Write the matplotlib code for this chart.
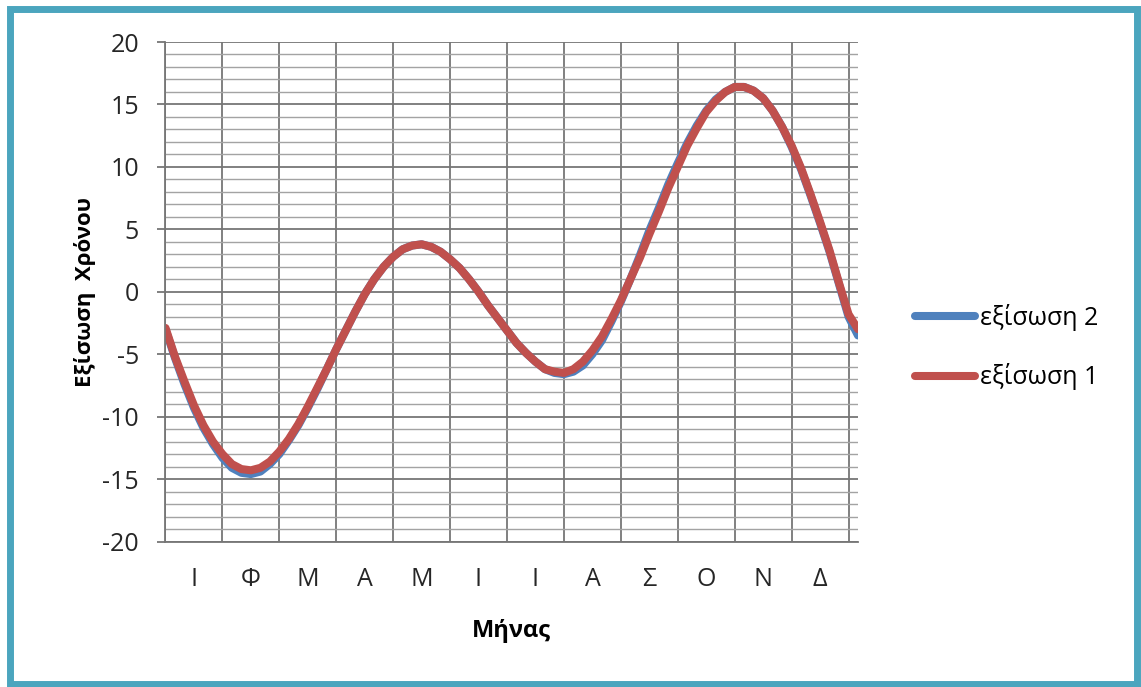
import matplotlib
matplotlib.use('Agg')
import matplotlib.pyplot as plt
from matplotlib.patches import Rectangle
from matplotlib.ticker import MultipleLocator

plt.rcParams['font.family'] = ['Open Sans', 'DejaVu Sans']
plt.rcParams['axes.unicode_minus'] = False

# day of year, sampled every 5 days
days = list(range(0, 366, 5))

# equation of time in minutes, two approximations
eq1 = [-2.9, -5.2, -7.2, -9.1, -10.7, -12.0, -13.0, -13.8, -14.2, -14.3,
       -14.1, -13.6, -12.8, -11.8, -10.6, -9.2, -7.7, -6.2, -4.6, -3.1,
       -1.6, -0.2, 1.0, 2.0, 2.8, 3.4, 3.7, 3.8, 3.6, 3.2,
       2.6, 1.9, 1.0, 0.0, -1.1, -2.1, -3.1, -4.1, -4.9, -5.6,
       -6.2, -6.4, -6.5, -6.2, -5.6, -4.7, -3.6, -2.2, -0.7, 1.0,
       2.7, 4.6, 6.4, 8.3, 10.0, 11.7, 13.1, 14.4, 15.3, 16.0,
       16.4, 16.4, 16.1, 15.5, 14.5, 13.2, 11.7, 9.9, 7.8, 5.6,
       3.3, 0.7, -1.8, -3.0]
eq2 = [-3.0, -5.3, -7.4, -9.3, -10.9, -12.2, -13.3, -14.1, -14.5, -14.6,
       -14.4, -13.8, -13.0, -11.9, -10.7, -9.3, -7.8, -6.2, -4.6, -3.1,
       -1.6, -0.2, 1.0, 2.0, 2.8, 3.4, 3.7, 3.8, 3.6, 3.2,
       2.6, 1.9, 1.0, 0.0, -1.1, -2.1, -3.1, -4.1, -4.9, -5.6,
       -6.2, -6.5, -6.6, -6.4, -5.9, -5.0, -3.9, -2.4, -0.8, 1.0,
       2.9, 4.9, 6.7, 8.6, 10.3, 11.9, 13.3, 14.5, 15.4, 16.0,
       16.4, 16.4, 16.1, 15.5, 14.5, 13.2, 11.6, 9.8, 7.7, 5.5,
       3.2, 0.6, -2.0, -3.5]

month_ticks = list(range(0, 361, 30))
month_centers = list(range(15, 360, 30))
month_labels = ['Ι', 'Φ', 'Μ', 'Α', 'Μ', 'Ι', 'Ι', 'Α', 'Σ', 'Ο', 'Ν', 'Δ']

W, H = 1141, 687
fig = plt.figure(figsize=(W / 100, H / 100), dpi=100)
fig.patch.set_facecolor('white')

# outer frame
fig.patches.append(Rectangle((9.5 / W, 3.5 / H), 1127 / W, 675 / H,
                             transform=fig.transFigure, fill=False,
                             edgecolor='#4BA5BE', linewidth=5.0))

ax = fig.add_axes([165.5 / W, 1 - 541.5 / H, 692.5 / W, 499.5 / H])
ax.set_axisbelow(True)

ax.plot(days, eq2, color='#4F81BD', linewidth=5.8, solid_capstyle='round',
        label='εξίσωση 2')
ax.plot(days, eq1, color='#C0504D', linewidth=5.8, solid_capstyle='round',
        label='εξίσωση 1')

ax.set_xlim(0, 365)
ax.set_ylim(-20, 20)

# grid: every minute horizontally, month boundaries vertically
grid_dark = '#767676'
ax.set_yticks(range(-20, 21, 5))
ax.yaxis.set_minor_locator(MultipleLocator(1))
ax.grid(which='major', axis='y', color=grid_dark, linewidth=1.3)
ax.grid(which='minor', axis='y', color='#a3a3a3', linewidth=1.0)
ax.set_xticks(month_ticks)
ax.set_xticklabels([])
ax.grid(which='major', axis='x', color=grid_dark, linewidth=1.3)
ax.set_xticks(month_centers, minor=True)
ax.set_xticklabels(month_labels, minor=True)

ax.tick_params(axis='y', which='major', length=6, width=1.3, color=grid_dark,
               pad=13, labelsize=18, labelcolor='#262626')
ax.tick_params(axis='y', which='minor', length=0)
ax.tick_params(axis='x', which='major', length=0)
ax.tick_params(axis='x', which='minor', length=0, pad=18, labelsize=18,
               labelcolor='#262626')

for side in ['top', 'right']:
    ax.spines[side].set_visible(False)
for side in ['left', 'bottom']:
    ax.spines[side].set_color(grid_dark)
    ax.spines[side].set_linewidth(1.3)

ax.set_xlabel('Μήνας', fontsize=17, fontweight='bold', labelpad=20)
ax.set_ylabel('Εξίσωση  Χρόνου', fontsize=16, fontweight='bold', labelpad=5)

fig.legend(loc='center left', bbox_to_anchor=(915 / W, 1 - 347 / H),
           frameon=False, fontsize=18, handlelength=2.4, handletextpad=0.2,
           labelspacing=1.3, borderpad=0, borderaxespad=0)

plt.savefig('out.png', dpi=100)
